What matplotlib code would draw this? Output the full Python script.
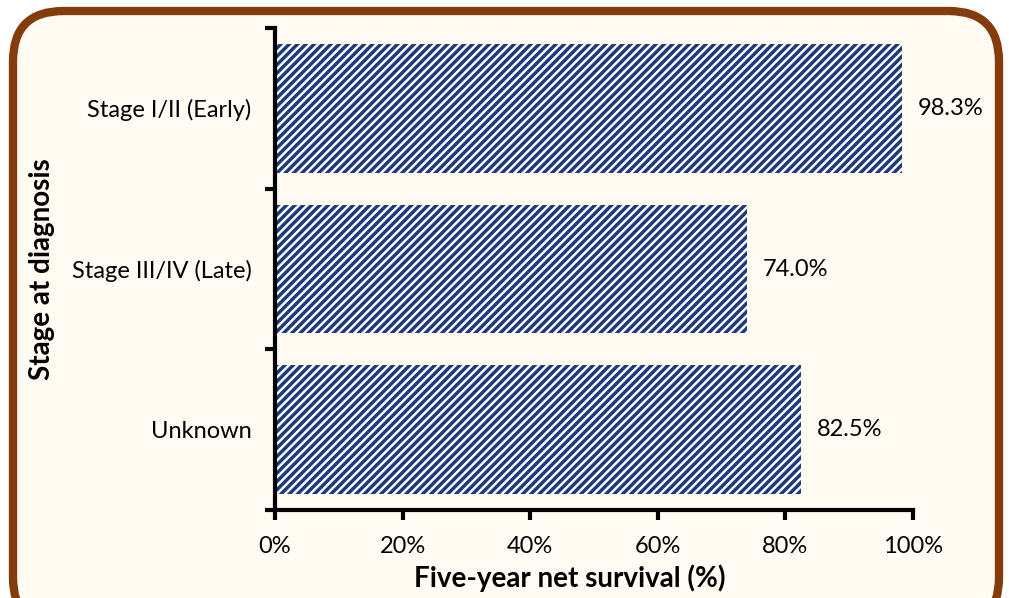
import matplotlib
matplotlib.use("Agg")
import matplotlib.pyplot as plt
from matplotlib.patches import FancyBboxPatch
from matplotlib.ticker import FuncFormatter, MultipleLocator

categories = ["Stage I/II (Early)", "Stage III/IV (Late)", "Unknown"]
survival = [98.3, 74.0, 82.5]
x_label = "Five-year net survival (%)"
y_label = "Stage at diagnosis"

plt.rcParams["font.family"] = ["Lato", "DejaVu Sans"]
plt.rcParams["hatch.linewidth"] = 2.5
plt.rcParams["hatch.color"] = "#1F3A7A"

bg = "#FFFBF3"
fig = plt.figure(figsize=(10.09, 5.98), dpi=100)
fig.patch.set_facecolor("white")

# rounded brown frame around the panel
frame = FancyBboxPatch((13 / 1009, -0.05), 986 / 1009, 1 - 11 / 598 + 0.05,
                       boxstyle="round,pad=0,rounding_size=0.05",
                       transform=fig.transFigure, facecolor=bg,
                       edgecolor="#843C0C", linewidth=6, zorder=-5,
                       mutation_aspect=1009 / 598)
fig.patches.append(frame)

ax = fig.add_axes([275 / 1009, 1 - 510 / 598, (913 - 275) / 1009, (510 - 28) / 598])
ax.set_facecolor("none")
ax.set_zorder(2)

ypos = list(range(len(categories)))
bars = ax.barh(ypos, survival, height=0.8, color="white",
               edgecolor="#1F3A7A", hatch="////", linewidth=0)
for y, v in zip(ypos, survival):
    ax.text(v + 2.5, y, f"{v:.1f}%", va="center", ha="left", fontsize=17)

ax.set_xlim(0, 100)
ax.set_ylim(len(categories) - 0.5, -0.5)
ax.set_yticks(ypos)
ax.set_yticklabels(categories, fontsize=17)
ax.set_yticks([-0.5, 0.5, 1.5, 2.5], minor=True)
ax.tick_params(axis="y", which="major", length=0, pad=17)
ax.tick_params(axis="y", which="minor", length=7, width=3, direction="out")
ax.xaxis.set_major_locator(MultipleLocator(20))
ax.xaxis.set_major_formatter(FuncFormatter(lambda v, p: f"{v:.0f}%"))
ax.tick_params(axis="x", length=7, width=3, direction="out", labelsize=17, pad=12)

for s in ["top", "right"]:
    ax.spines[s].set_visible(False)
for s in ["left", "bottom"]:
    ax.spines[s].set_linewidth(3)

ax.set_xlabel(x_label, fontsize=20, fontweight="bold")
ax.xaxis.set_label_coords(0.462, -0.113)
ax.set_ylabel(y_label, fontsize=20, fontweight="bold", labelpad=12)

fig.savefig("out.png", dpi=100, facecolor="white")
